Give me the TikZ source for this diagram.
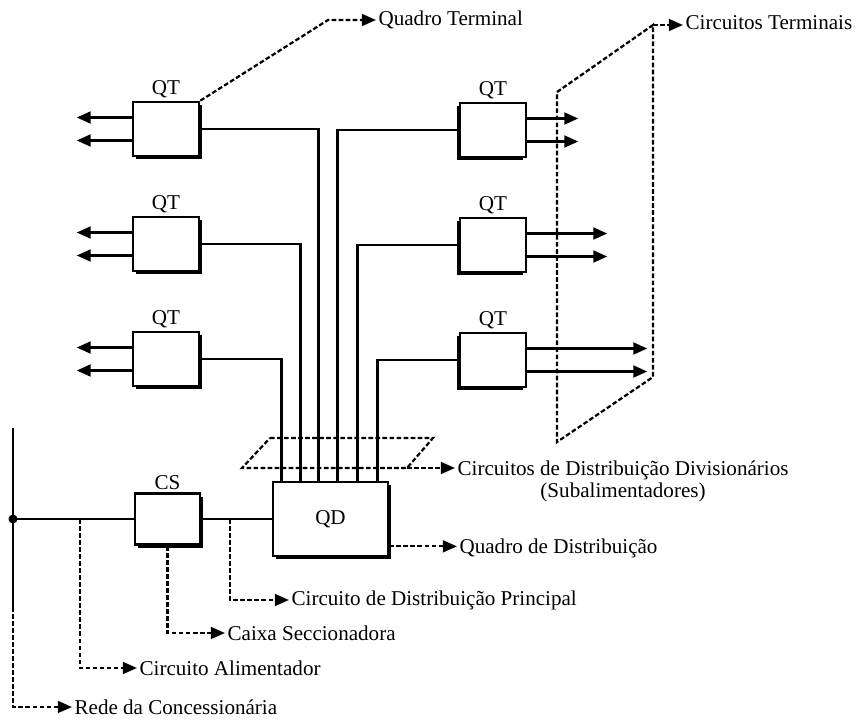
\documentclass[tikz,border=0pt]{standalone}
\usepackage{fontspec}
\setmainfont{Liberation Serif}
\usetikzlibrary{arrows.meta,positioning,shadows}

\tikzset{
  quadro/.style={draw, fill=white, line width=2.3pt, inner sep=0pt,
    minimum width=1.98cm, minimum height=1.62cm},
  sombra dir/.style={general shadow={fill=black, shadow xshift=2.6pt, shadow yshift=-2.6pt}},
  sombra esq/.style={general shadow={fill=black, shadow xshift=-2.6pt, shadow yshift=-2.6pt}},
  fio/.style={line width=2.3pt},
  saida/.style={fio, -{Triangle[length=12pt,width=10pt]}},
  tracejado/.style={line width=1.9pt, dash pattern=on 4pt off 2pt},
  nota/.style={tracejado, -{Triangle[length=12pt,width=10pt]}},
  rotulo/.style={font=\fontsize{18}{21}\selectfont, inner sep=2pt},
}

\begin{document}
\begin{tikzpicture}[x=0.03cm, y=-0.03cm]
        \useasboundingbox (0,0) rectangle (860,720);

        % quadros terminais
        \node[quadro, sombra dir] (qte1) at (166,129) {};
        \node[quadro, sombra dir] (qte2) at (166,244) {};
        \node[quadro, sombra dir] (qte3) at (166,359) {};
        \node[quadro, sombra esq] (qtd1) at (493,130) {};
        \node[quadro, sombra esq] (qtd2) at (493,245) {};
        \node[quadro, sombra esq] (qtd3) at (493,360) {};
        \foreach \q in {qte1,qte2,qte3,qtd1,qtd2,qtd3}
            \node[rotulo, above=0pt of \q] (\q-t) {QT};

        % caixa seccionadora e quadro de distribuicao
        \node[quadro, sombra dir, minimum width=1.95cm, minimum height=1.53cm] (cs) at (167.5,519) {};
        \node[rotulo, above=0pt of cs] (cs-t) {CS};
        \node[quadro, sombra dir, minimum width=3.45cm, minimum height=2.22cm, rotulo] (qd) at (330.5,519) {QD};

        % pontos de chegada no QD
        \path (qd.north west) ++(10,0) coordinate (d1) ++(19,0) coordinate (d2)
            ++(18,0) coordinate (d3) ++(19,0) coordinate (d4)
            ++(20,0) coordinate (d5) ++(20,0) coordinate (d6);

        % circuitos divisionarios
        \draw[fio] (qte1.east) -| (d3);
        \draw[fio] (qte2.east) -| (d2);
        \draw[fio] (qte3.east) -| (d1);
        \draw[fio] (qtd1.west) -| (d4);
        \draw[fio] (qtd2.west) -| (d5);
        \draw[fio] (qtd3.west) -| (d6);

        % circuitos terminais
        \foreach \q in {qte1,qte2,qte3}
            \foreach \dy in {-11.5,11.5}
                \draw[saida] (\q.west) ++(0,\dy) -- ++(-55,0);
        \foreach \q/\c in {qtd1/51,qtd2/80,qtd3/120}
            \foreach \dy in {-11.5,11.5}
                \draw[saida] (\q.east) ++(0,\dy) -- ++(\c,0);

        % rede e circuito alimentador
        \coordinate (rt) at (13,428);
        \coordinate (j) at (13,519);
        \coordinate (rs) at (13,607);
        \draw[fio] (rt) -- (j) -- (rs);
        \fill (j) circle (4.5);
        \draw[fio] (j) -- (cs) -- (qd);

        % planos tracejados
        \draw[tracejado] (557,92) coordinate (ct1) -- (653,25) coordinate (ct2)
            -- (653,377) -- (557,442) -- cycle;
        \draw[tracejado] (270,438) -- (433,438) -- (407,468) coordinate (pd)
            -- (242,468) -- cycle;

        % legendas
        \node[rotulo, anchor=west] (lqt) at (376,20) {Quadro Terminal};
        \node[rotulo, anchor=west] (lct) at (683,23) {Circuitos Terminais};
        \node[rotulo, anchor=west] (lcd) at (455,470) {Circuitos de Distribuição Divisionários};
        \node[rotulo, below=-2pt of lcd] (lsub) {(Subalimentadores)};
        \node[rotulo, anchor=west] (lqd) at (457,548) {Quadro de Distribuição};
        \node[rotulo, anchor=west] (lcp) at (289,600) {Circuito de Distribuição Principal};
        \node[rotulo, anchor=west] (lcs) at (225,633) {Caixa Seccionadora};
        \node[rotulo, anchor=west] (lca) at (137,668) {Circuito Alimentador};
        \node[rotulo, anchor=west] (lre) at (72,707) {Rede da Concessionária};

        \coordinate (qtk) at (328,20);
        \draw[nota] (qte1.north east) -- (qtk) -- (lqt.west);
        \draw[nota] (ct2) -- (ct2 -| lct.west);
        \draw[nota] (pd) -- (pd -| lcd.west);
        \path (qd.south east) ++(0,-11) coordinate (qdk);
        \draw[nota] (qdk) -- (qdk -| lqd.west);
        \coordinate (cp) at (230,519);
        \draw[nota] (cp) |- (lcp.west);
        \draw[nota] (cs.south) |- (lcs.west);
        \coordinate (ca) at (80,519);
        \draw[nota] (ca) |- (lca.west);
        \draw[nota] (rs) |- (lre.west);

    \end{tikzpicture}
\end{document}
